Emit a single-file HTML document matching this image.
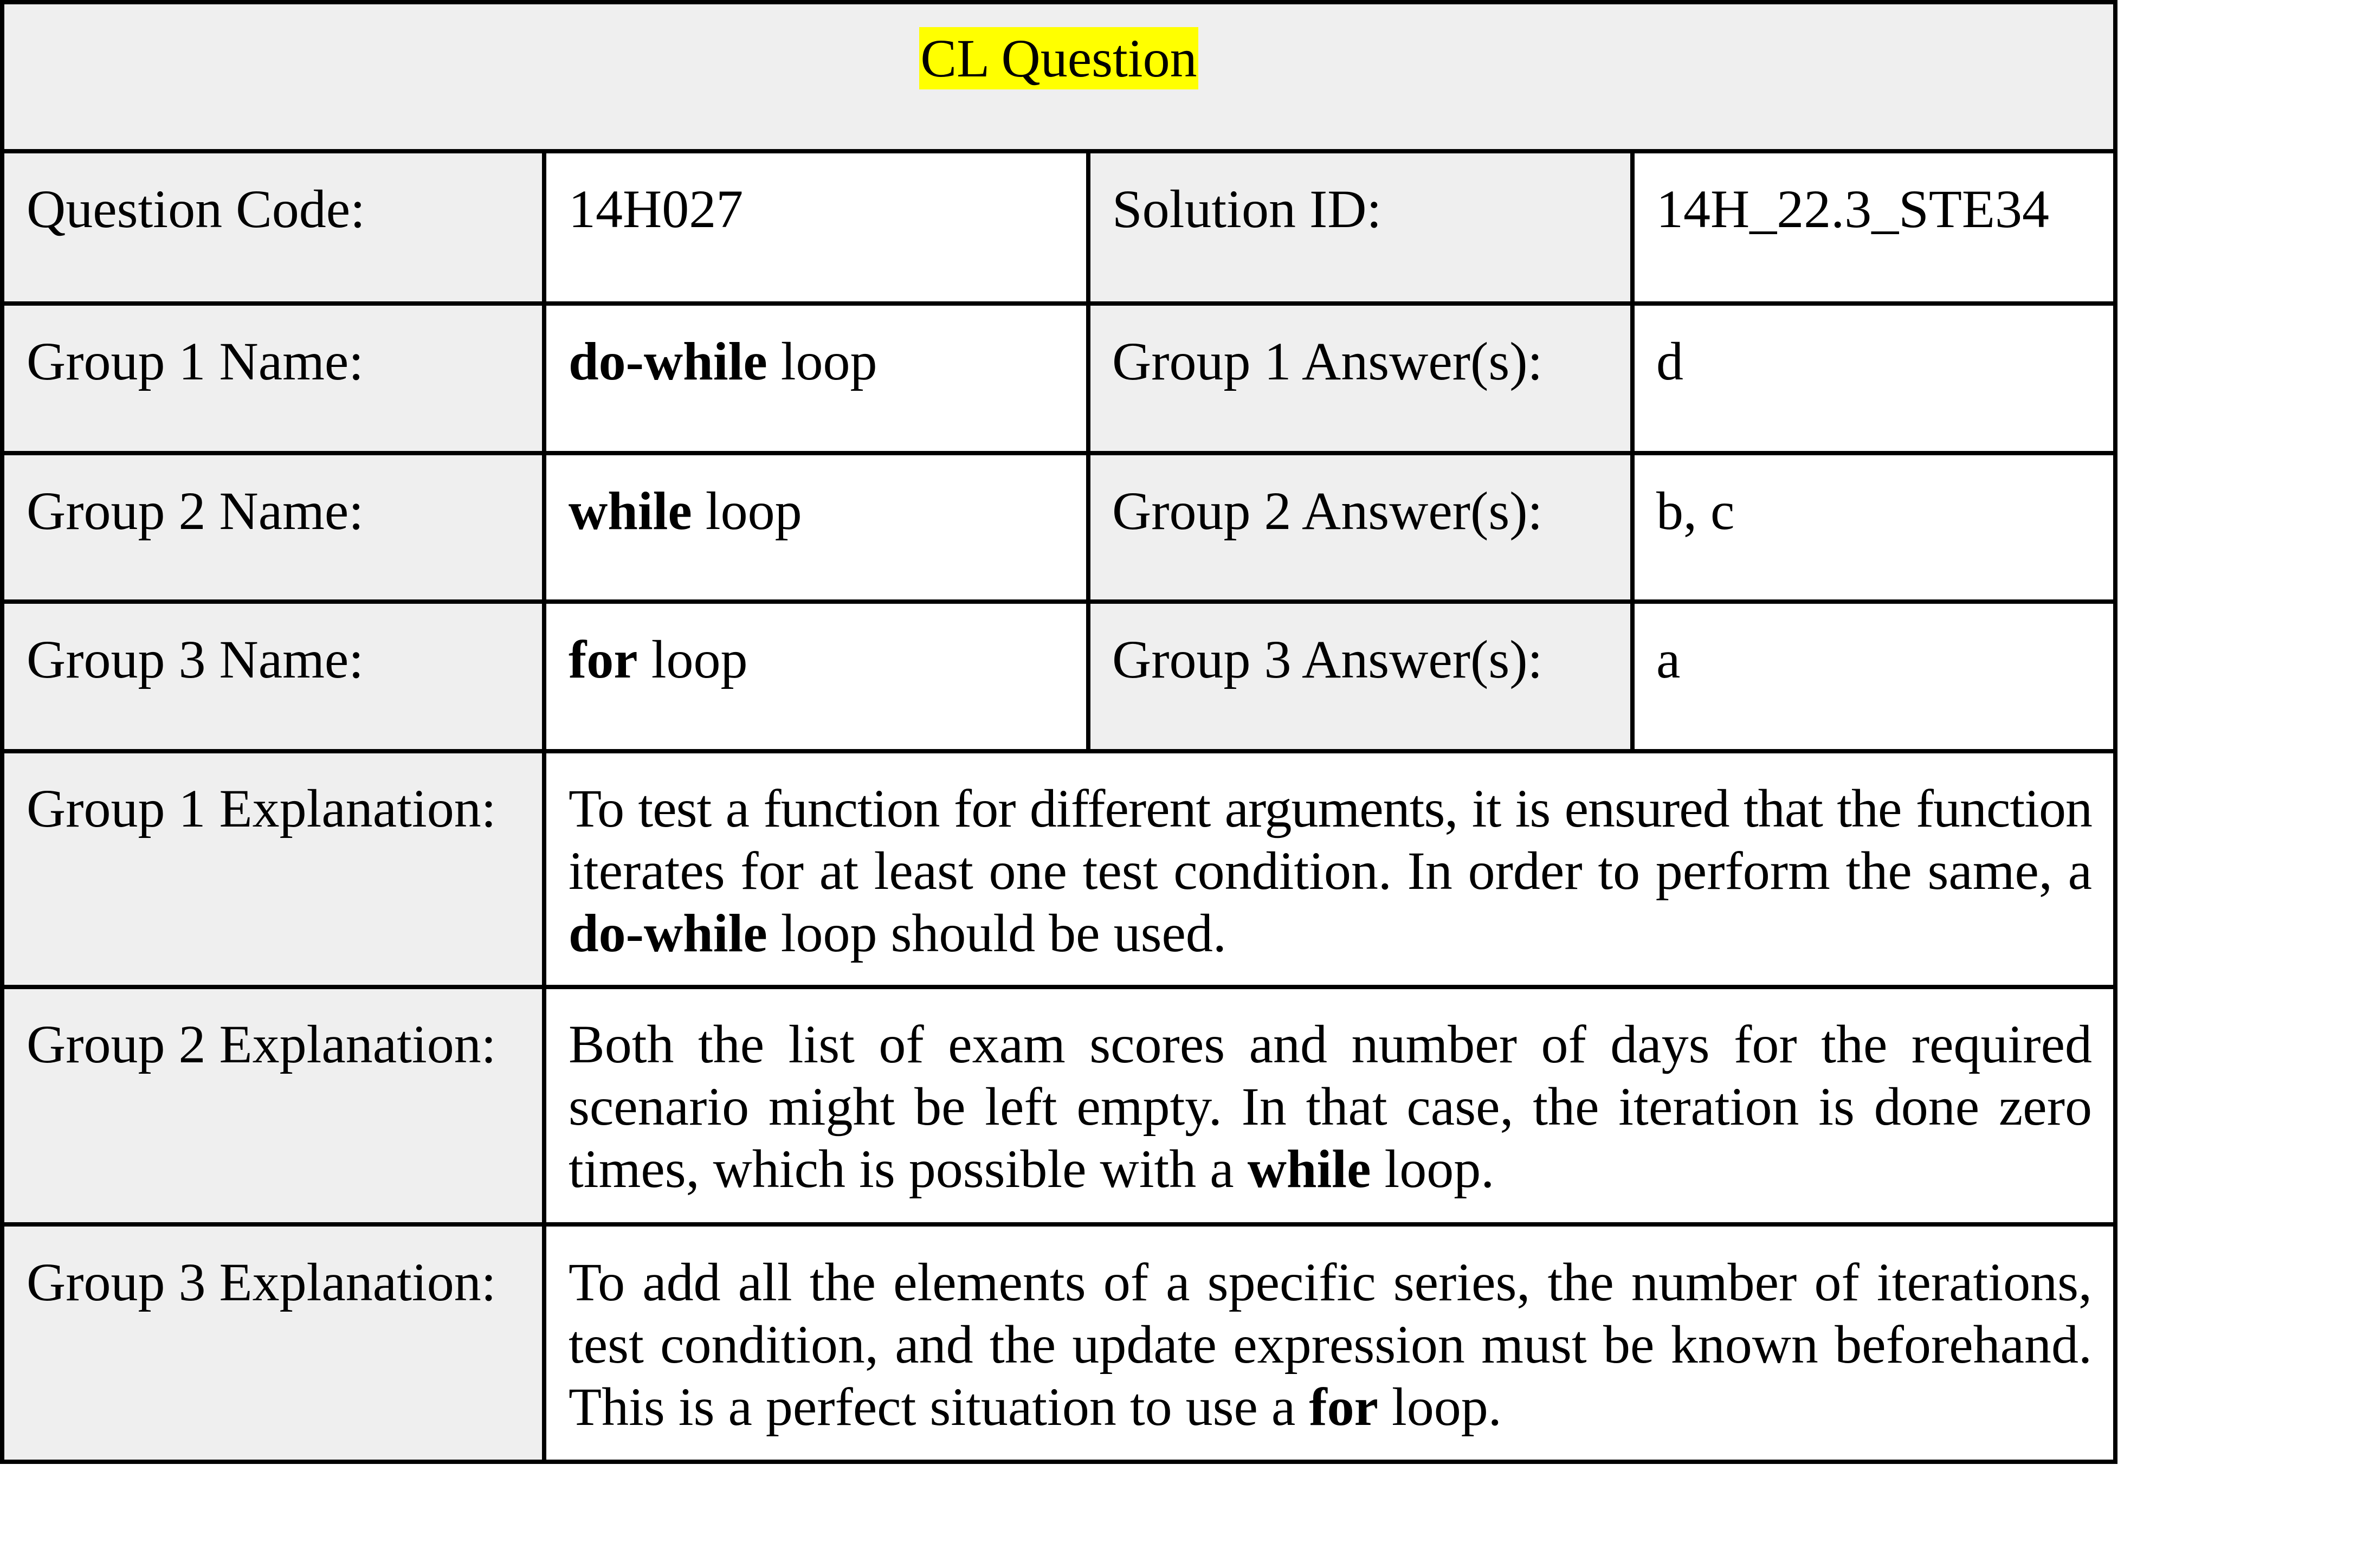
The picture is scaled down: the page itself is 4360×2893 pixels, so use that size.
<!DOCTYPE html>
<html><head><meta charset="utf-8"><style>
html,body{margin:0;padding:0;background:#fff;}
body{width:4360px;height:2893px;position:relative;overflow:hidden;font-family:"Liberation Serif","Times New Roman",serif;font-size:100px;line-height:115px;color:#000;}
.bg{position:absolute;background:#efefef;}
.h{position:absolute;background:#000;height:8px;left:0;width:3907px;}
.v{position:absolute;background:#000;width:8px;}
.t{position:absolute;white-space:nowrap;}
.ex{position:absolute;left:1049px;width:2811px;}
.ex div{text-align:justify;text-align-last:justify;white-space:nowrap;}
.ex div.last{text-align-last:left;}
b{font-weight:bold;}
</style></head><body>
<div class="bg" style="left:0;top:0;width:3907px;height:279px"></div>
<div class="bg" style="left:0;top:279px;width:1004px;height:2418px"></div>
<div class="bg" style="left:2008px;top:279px;width:1004px;height:1107px"></div>

<div class="h" style="top:0"></div>
<div class="h" style="top:275px"></div>
<div class="h" style="top:556px"></div>
<div class="h" style="top:832px"></div>
<div class="h" style="top:1106px"></div>
<div class="h" style="top:1382px"></div>
<div class="h" style="top:1817px"></div>
<div class="h" style="top:2255px"></div>
<div class="h" style="top:2693px"></div>
<div class="v" style="left:0;top:0;height:2701px"></div>
<div class="v" style="left:3899px;top:0;height:2701px"></div>
<div class="v" style="left:1000px;top:279px;height:2418px"></div>
<div class="v" style="left:2004px;top:279px;height:1107px"></div>
<div class="v" style="left:3008px;top:279px;height:1107px"></div>

<div class="t" style="left:0;width:3907px;top:50px;text-align:center"><span style="background:#ffff00;display:inline-block;padding:0 2px">CL Question</span></div>

<div class="t" style="left:49px;top:328px">Question Code:</div>
<div class="t" style="left:1049px;top:328px">14H027</div>
<div class="t" style="left:2052px;top:328px">Solution ID:</div>
<div class="t" style="left:3056px;top:328px">14H_22.3_STE34</div>

<div class="t" style="left:49px;top:609px">Group 1 Name:</div>
<div class="t" style="left:1049px;top:609px"><b>do-while</b> loop</div>
<div class="t" style="left:2052px;top:609px">Group 1 Answer(s):</div>
<div class="t" style="left:3056px;top:609px">d</div>

<div class="t" style="left:49px;top:885px">Group 2 Name:</div>
<div class="t" style="left:1049px;top:885px"><b>while</b> loop</div>
<div class="t" style="left:2052px;top:885px">Group 2 Answer(s):</div>
<div class="t" style="left:3056px;top:885px">b, c</div>

<div class="t" style="left:49px;top:1159px">Group 3 Name:</div>
<div class="t" style="left:1049px;top:1159px"><b>for</b> loop</div>
<div class="t" style="left:2052px;top:1159px">Group 3 Answer(s):</div>
<div class="t" style="left:3056px;top:1159px">a</div>

<div class="t" style="left:49px;top:1434px">Group 1 Explanation:</div>
<div class="ex" style="top:1434px">
<div style="letter-spacing:-1px">To test a function for different arguments, it is ensured that the function</div>
<div>iterates for at least one test condition. In order to perform the same, a</div>
<div class="last"><b>do-while</b> loop should be used.</div>
</div>

<div class="t" style="left:49px;top:1869px">Group 2 Explanation:</div>
<div class="ex" style="top:1869px">
<div>Both the list of exam scores and number of days for the required</div>
<div>scenario might be left empty. In that case, the iteration is done zero</div>
<div class="last">times, which is possible with a <b>while</b> loop.</div>
</div>

<div class="t" style="left:49px;top:2308px">Group 3 Explanation:</div>
<div class="ex" style="top:2308px">
<div>To add all the elements of a specific series, the number of iterations,</div>
<div>test condition, and the update expression must be known beforehand.</div>
<div class="last">This is a perfect situation to use a <b>for</b> loop.</div>
</div>
</body></html>
